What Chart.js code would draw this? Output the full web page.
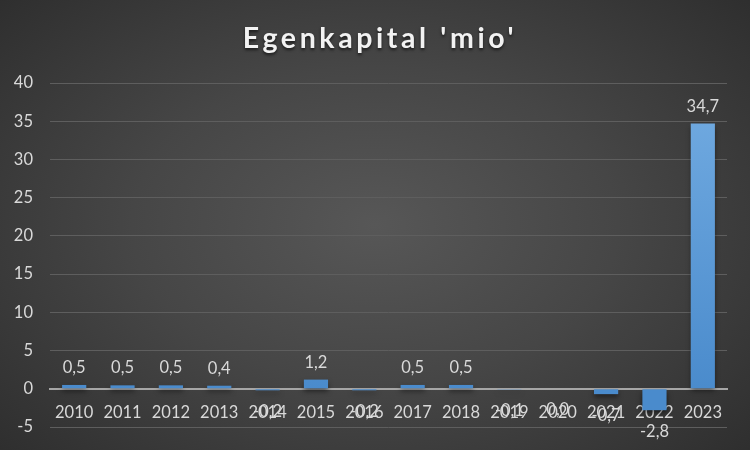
<!DOCTYPE html>
<html>
<head>
<meta charset="utf-8">
<script src="https://cdn.jsdelivr.net/npm/chart.js@4"></script>
<style>
html,body{margin:0;padding:0;}
body{width:750px;height:450px;overflow:hidden;background:radial-gradient(ellipse 72% 78% at 50% 50%, #575757 0%, #464646 45%, #2c2c2c 100%);}
#wrap{width:750px;height:450px;position:relative;}
</style>
</head>
<body>
<div id="wrap"><canvas id="c" width="750" height="450"></canvas></div>
<script>
const categories = ['2010','2011','2012','2013','2014','2015','2016','2017','2018','2019','2020','2021','2022','2023'];
const values = [0.5, 0.45, 0.45, 0.4, -0.2, 1.2, -0.2, 0.5, 0.5, -0.1, 0.0, -0.7, -2.8, 34.7];
const labels = ['0,5','0,5','0,5','0,4','-0,2','1,2','-0,2','0,5','0,5','-0,1','0,0','-0,7','-2,8','34,7'];
const titleText = "Egenkapital 'mio'";
const yMin = -5, yMax = 40, yStep = 5;

const FONT = "Lato, 'Open Sans', sans-serif";

const titlePlugin = {
  id: 'titleDraw',
  afterDraw(chart) {
    const ctx = chart.ctx;
    ctx.save();
    ctx.font = "bold 28.5px " + FONT;
    ctx.letterSpacing = '3.6px';
    ctx.fillStyle = '#f2f2f2';
    ctx.textAlign = 'center';
    ctx.textBaseline = 'alphabetic';
    ctx.shadowColor = 'rgba(0,0,0,0.6)';
    ctx.shadowBlur = 3;
    ctx.shadowOffsetY = 2;
    ctx.fillText(titleText, 380, 48);
    ctx.restore();
  }
};

const valueLabels = {
  id: 'valueLabels',
  afterDatasetsDraw(chart) {
    const ctx = chart.ctx;
    const meta = chart.getDatasetMeta(0);
    ctx.save();
    ctx.font = "16.5px " + FONT;
    ctx.fillStyle = '#d9d9d9';
    ctx.textAlign = 'center';
    meta.data.forEach((bar, i) => {
      const v = values[i];
      if (v > 0) {
        ctx.textBaseline = 'bottom';
        ctx.fillText(labels[i], bar.x, bar.y - 9);
      } else {
        ctx.textBaseline = 'top';
        ctx.fillText(labels[i], bar.x, bar.y + 13);
      }
    });
    ctx.restore();
  }
};

const barShadow = {
  id: 'barShadow',
  beforeDatasetsDraw(chart) {
    const ctx = chart.ctx;
    ctx.save();
    ctx.shadowColor = 'rgba(0,0,0,0.5)';
    ctx.shadowBlur = 5;
    ctx.shadowOffsetY = 3;
  },
  afterDatasetsDraw(chart) {
    chart.ctx.restore();
  }
};

const ctx = document.getElementById('c').getContext('2d');
const grad = ctx.createLinearGradient(0, 120, 0, 390);
grad.addColorStop(0, '#6ea8df');
grad.addColorStop(1, '#4a8bcc');

new Chart(ctx, {
  type: 'bar',
  data: {
    labels: categories,
    datasets: [{
      data: values,
      backgroundColor: grad,
      borderWidth: 0,
      barPercentage: 0.5,
      categoryPercentage: 1.0
    }]
  },
  options: {
    responsive: false,
    animation: false,
    layout: { padding: { left: 0, right: 23, top: 83, bottom: 23 } },
    plugins: {
      legend: { display: false },
      tooltip: { enabled: false },
      title: { display: false }
    },
    scales: {
      x: {
        position: { y: 0 },
        afterFit(scale) { scale.height = 0; scale.paddingTop = 0; scale.paddingBottom = 0; },
        grid: { display: false, drawTicks: false },
        border: { display: true, color: '#a6a6a6', width: 2 },
        ticks: { color: '#d9d9d9', font: { family: FONT, size: 16.5 }, padding: 14, maxRotation: 0, autoSkip: false }
      },
      y: {
        min: yMin, max: yMax,
        afterFit(scale) { scale.width = 50; scale.paddingTop = 0; scale.paddingBottom = 0; },
        ticks: { stepSize: yStep, color: '#d9d9d9', font: { family: FONT, size: 16.5 }, padding: 17 },
        grid: { color: '#5e5e5e', lineWidth: 1, drawTicks: false },
        border: { display: false }
      }
    }
  },
  plugins: [barShadow, valueLabels, titlePlugin]
});
</script>
</body>
</html>
